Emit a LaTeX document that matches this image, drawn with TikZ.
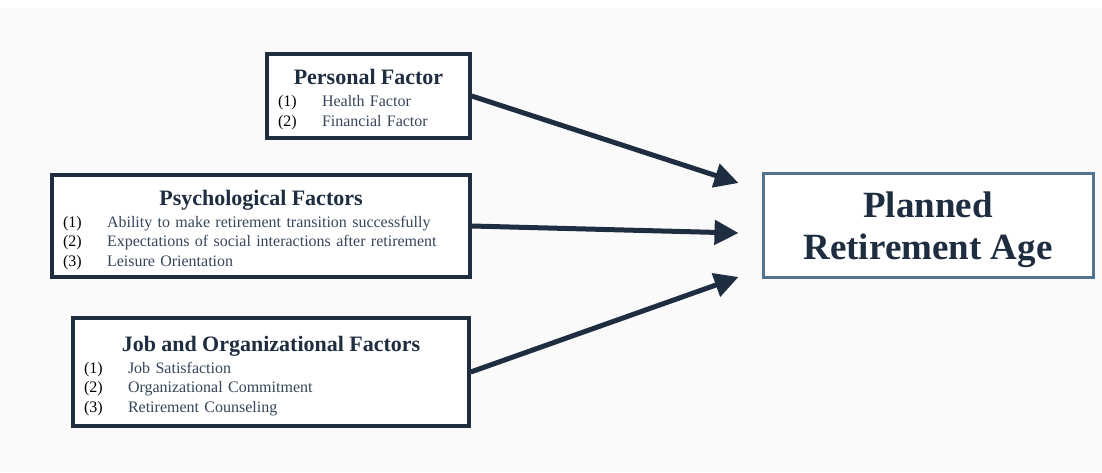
\documentclass[tikz,border=0pt]{standalone}
\usepackage{fontspec}
\setmainfont{Liberation Serif}
\usetikzlibrary{arrows.meta,positioning}

\definecolor{navy}{HTML}{1E2D40}
\definecolor{itemblue}{HTML}{36465B}
\definecolor{steel}{HTML}{53748E}
\definecolor{paper}{HTML}{FAFAFA}

% title line and numbered lines inside a factor box
\newcommand{\factortitle}[1]{{\centering\fontsize{22}{25}\selectfont\bfseries\color{navy}\rule{0pt}{22.5pt}#1\par}\vspace{2.5pt}}
\newcommand{\factoritem}[2]{\makebox[44pt][l]{\color{black}#1}{\color{itemblue}#2}\par}

\tikzset{
  factor/.style={draw=navy, line width=3.5pt, fill=white, inner xsep=11pt,
    align=left, font=\fontsize{16}{19.5}\selectfont},
  outcome/.style={draw=steel, line width=3pt, fill=white, align=center,
    text=navy, font=\fontsize{37}{42}\selectfont\bfseries},
  link/.style={draw=navy, line width=5pt, -{Triangle[length=24pt,width=24pt]}}
}

\begin{document}
\begin{tikzpicture}[x=1pt,y=-1pt]
\useasboundingbox (0,0) rectangle (1102,472);
\fill[paper] (0,8) rectangle (1102,472);

\node[factor, minimum width=203pt, minimum height=84pt, text width=181pt] (personal) at (368.5,96) {
  \factortitle{Personal Factor}
  \factoritem{(1)}{Health Factor}
  \factoritem{(2)}{Financial Factor}};
\node[factor, minimum width=418pt, minimum height=102pt, text width=396pt] (psych) at (261,226) {
  \factortitle{Psychological Factors}
  \factoritem{(1)}{Ability to make retirement transition successfully}
  \factoritem{(2)}{Expectations of social interactions after retirement}
  \factoritem{(3)}{Leisure Orientation}};
\node[factor, minimum width=396pt, minimum height=108pt, text width=374pt] (job) at (271,372) {
  \factortitle{Job and Organizational Factors}
  \factoritem{(1)}{Job Satisfaction}
  \factoritem{(2)}{Organizational Commitment}
  \factoritem{(3)}{Retirement Counseling}};

\node[outcome, minimum width=330pt, minimum height=104pt] (planned) at (928,225) {\rule{0pt}{35pt}Planned\\Retirement Age};

% arrow heads stop short of the outcome box
\coordinate (in1) at ([xshift=-23pt,yshift=42pt]planned.west);
\coordinate (in2) at ([xshift=-23pt,yshift=-8pt]planned.west);
\coordinate (in3) at ([xshift=-23pt,yshift=-52pt]planned.west);

\foreach \src/\dst in {personal/in1, psych/in2, job/in3}
\draw[link] (\src.east) -- (\dst);
\end{tikzpicture}
\end{document}
